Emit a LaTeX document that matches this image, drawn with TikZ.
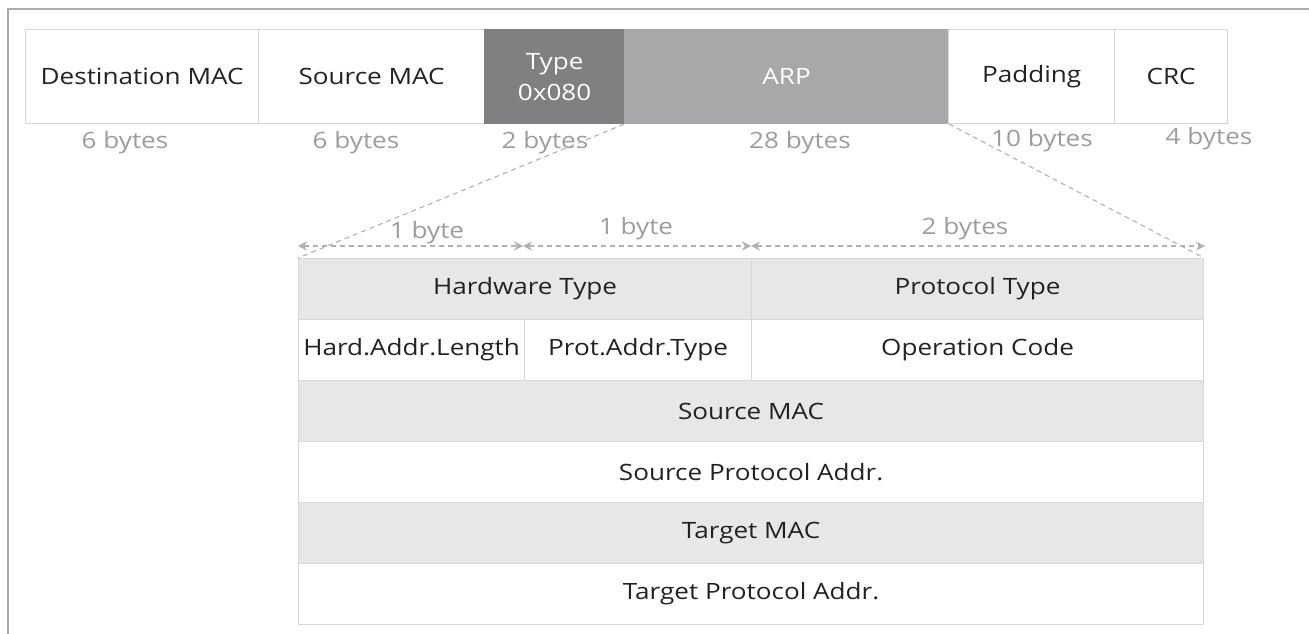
\documentclass[tikz,border=0pt]{standalone}
\usepackage{fontspec}
\setmainfont[FakeStretch=1.16]{Open Sans}
\usetikzlibrary{arrows.meta}
\definecolor{cellline}{HTML}{D6D7D8}
\definecolor{typefill}{HTML}{808083}
\definecolor{arpfill}{HTML}{A7A8AA}
\definecolor{rowgray}{HTML}{E6E7E8}
\definecolor{labgray}{HTML}{9C9D9F}
\definecolor{dashgray}{HTML}{B0B1B3}
\definecolor{framegray}{HTML}{A9AAAC}
\definecolor{txt}{HTML}{222222}
\tikzset{
  cell/.style={draw=cellline, line width=1.2pt, rectangle, inner sep=0pt, anchor=north west, text=txt, font=\fontsize{22.5}{31}\selectfont, align=center},
  blab/.style={text=labgray, font=\fontsize{22.5}{26}\selectfont, inner sep=0pt},
  dimline/.style={dashgray, dashed, line width=1.1pt, dash pattern=on 5pt off 4pt},
  dimarrow/.style={dimline, {Stealth[length=9pt,width=9pt]}-{Stealth[length=9pt,width=9pt]}}
}
\begin{document}
\begin{tikzpicture}[x=1pt,y=-1pt]
\useasboundingbox (0,0) rectangle (1309,634);
\fill[white] (0,0) rectangle (1309,634);
% frame
\draw[framegray, line width=2pt] (8,634) -- (8,9) -- (1309,9);
% top frame row
\node[cell, minimum width=233pt, minimum height=94pt] (dst) at (25,29) {Destination MAC};
\node[cell, minimum width=226pt, minimum height=94pt] (src) at (258,29) {Source MAC};
\node[cell, fill=typefill, draw=typefill, text=white, minimum width=140pt, minimum height=94pt] (type) at (484,29) {Type\\0x080};
\node[cell, fill=arpfill, draw=arpfill, text=white, minimum width=324pt, minimum height=94pt] (arp) at (624,29) {ARP};
\node[cell, minimum width=166pt, minimum height=94pt] (pad) at (948,29) {Padding};
\node[cell, minimum width=113pt, minimum height=94pt] (crc) at (1114,29) {CRC};
% byte labels
\node[blab] (b1) at (125,143) {6 bytes};
\node[blab] (b2) at (356,143) {6 bytes};
\node[blab] (b3) at (545,143) {2 bytes};
\node[blab] (b4) at (800,143) {28 bytes};
\node[blab] (b5) at (1042,141) {10 bytes};
\node[blab] (b6) at (1209,139) {4 bytes};
% ARP table
\node[cell, fill=rowgray, minimum width=453pt, minimum height=61pt] (hw) at (298,258) {Hardware Type};
\node[cell, fill=rowgray, minimum width=452pt, minimum height=61pt] (pt) at (751,258) {Protocol Type};
\node[cell, minimum width=226pt, minimum height=61pt] (hal) at (298,319) {Hard.Addr.Length};
\node[cell, minimum width=227pt, minimum height=61pt] (pat) at (524,319) {Prot.Addr.Type};
\node[cell, minimum width=452pt, minimum height=61pt] (op) at (751,319) {Operation Code};
\node[cell, fill=rowgray, minimum width=905pt, minimum height=61pt] (smac) at (298,380) {Source MAC};
\node[cell, minimum width=905pt, minimum height=61pt] (spa) at (298,441) {Source Protocol Addr.};
\node[cell, fill=rowgray, minimum width=905pt, minimum height=61pt] (tmac) at (298,502) {Target MAC};
\node[cell, minimum width=905pt, minimum height=61pt] (tpa) at (298,563) {Target Protocol Addr.};
% zoom lines
\draw[dimline] (arp.south west) -- (hw.north west);
\draw[dimline] (arp.south east) -- (pt.north east);
% dimension arrows
\coordinate (d0) at (298,246);
\coordinate (d1) at (523,246);
\coordinate (d2) at (751,246);
\coordinate (d3) at (1205,246);
\draw[dimarrow] (d0) -- (d1);
\draw[dimarrow] (d1) -- (d2);
\draw[dimarrow] (d2) -- (d3);
\node[blab] (l1) at (427,233) {1 byte};
\node[blab] (l2) at (636,229) {1 byte};
\node[blab] (l3) at (965,229) {2 bytes};
\end{tikzpicture}
\end{document}
